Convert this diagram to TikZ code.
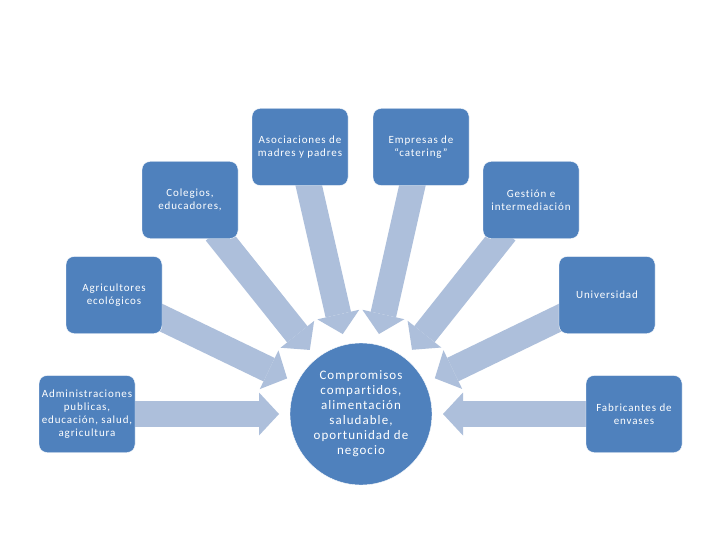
\documentclass[tikz,border=0pt]{standalone}
\usepackage{fontspec}
\setmainfont[LetterSpace=8, Ligatures=NoCommon]{Carlito}
\usetikzlibrary{arrows.meta,calc,backgrounds}
\definecolor{boxblue}{HTML}{4F81BD}
\definecolor{arrowblue}{HTML}{ADBFDB}

\begin{document}
\begin{tikzpicture}[x=1pt, y=-1pt, every node/.style={text=white, align=center},
    actor/.style={draw=white, thin, fill=boxblue, rounded corners=8pt, minimum width=96pt, minimum height=77pt, inner sep=0pt, font=\fontsize{11}{13}\selectfont},
    goal/.style={circle, draw=white, thin, fill=boxblue, minimum size=142pt, inner sep=0pt, font=\fontsize{13}{15}\selectfont},
    feed/.style={draw=arrowblue, line width=26pt, shorten <=-8pt, -{Triangle[width=43pt, length=20pt, line width=0pt]}}]
    \useasboundingbox (0,0) rectangle (720,540);
    % Hub
    \node[goal] (hub) at (361,414) {Compromisos\\ compartidos,\\ alimentación\\ saludable,\\ oportunidad de\\ negocio};
    %%%%%%%%%%%%%%%% Actors, left half
    \node[actor] (aso) at (300,147) {Asociaciones de\\ madres y padres};
    \node[actor] (col) at (190,200) {Colegios,\\ educadores,};
    \node[actor] (agr) at (114,295) {Agricultores\\ ecológicos};
    \node[actor] (adm) at (87,414) {Administraciones\\ publicas,\\ educación, salud,\\ agricultura};
    %%%%%%%%%%%%%%%% Actors, right half
    \node[actor] (emp) at (421,147) {Empresas de\\ “catering”};
    \node[actor] (ges) at (531,200) {Gestión e\\ intermediación};
    \node[actor] (uni) at (607,295) {Universidad};
    \node[actor] (fab) at (634,414) {Fabricantes de\\ envases};
    %%%%%%%%%%%%%%%% Converging arrows
    \begin{scope}[on background layer]
        \fill[white] (0,0) rectangle (720,540);
        \foreach \src in {aso,emp,col,ges,agr,uni,adm,fab} {
            \draw[feed] (\src) -- ($(hub)!82pt!(\src)$);
        }
    \end{scope}
\end{tikzpicture}
\end{document}
